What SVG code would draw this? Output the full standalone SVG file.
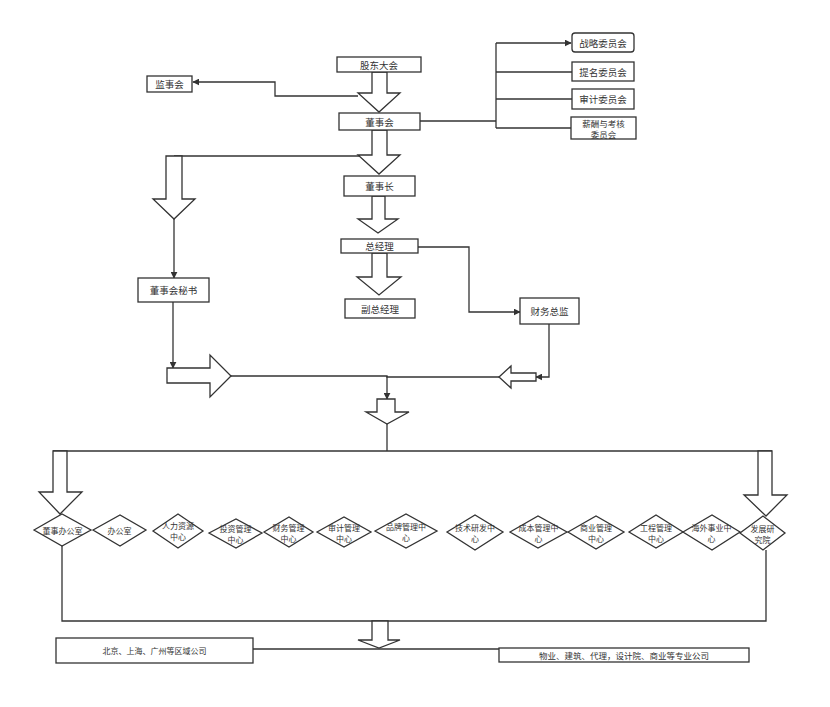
<svg xmlns="http://www.w3.org/2000/svg" width="830" height="707" viewBox="0 0 830 707">
<defs>
<marker id="ah" viewBox="0 0 10 10" refX="9" refY="5" markerWidth="7" markerHeight="7" orient="auto" markerUnits="userSpaceOnUse"><path d="M0,0 L10,5 L0,10 z" fill="#333"/></marker>
<style>
.box{fill:#fff;stroke:#333;stroke-width:1.3}
.ba{fill:#fff;stroke:#333;stroke-width:1.3}
.ln{fill:none;stroke:#333;stroke-width:1.3}
.ar{fill:none;stroke:#333;stroke-width:1.3;marker-end:url(#ah)}
text{font-family:"Noto Sans CJK SC","Liberation Sans",sans-serif;font-size:9.5px;fill:#333;text-anchor:middle;dominant-baseline:central}
.s{font-size:8px}
.m{font-size:8.5px}
</style>
</defs>
<rect width="830" height="707" fill="#fff"/>
<g id="connectors">
<polyline class="ar" points="358,96 275,96 275,82 193,82"/>
<polyline class="ln" points="420,121 496,121"/>
<polyline class="ln" points="496,43 496,128"/>
<polyline class="ar" points="496,43 571,43"/>
<polyline class="ln" points="496,72 572,72"/>
<polyline class="ln" points="496,99 572,99"/>
<polyline class="ln" points="496,128 571,128"/>
<polyline class="ln" points="174,156 372,156"/>
<polyline class="ar" points="174,219 174,278"/>
<polyline class="ar" points="418,247 469,247 469,312 520,312"/>
<polyline class="ar" points="173,302 173,368"/>
<polyline class="ar" points="549,324 549,377 536,377"/>
<polyline class="ln" points="231,376 387,376 387,377 499,377"/>
<polyline class="ar" points="387,376 387,399"/>
<polyline class="ln" points="387,424 387,451"/>
<polyline class="ln" points="53,451 772,451"/>
<polyline class="ln" points="62,546 62,621 766,621 766,550"/>
<polyline class="ln" points="253,649 499,649"/>
</g>
<g id="blockarrows">
<polygon class="ba" points="372,72 387,72 387,93 400,93 379,112 358,93 372,93"/>
<polygon class="ba" points="372,130 387,130 387,155 400,155 379,174 358,155 372,155"/>
<polygon class="ba" points="372,196 385,196 385,219 398,219 378,233 358,219 372,219"/>
<polygon class="ba" points="372,253 387,253 387,277 401,277 379,295 357,277 372,277"/>
<polygon class="ba" points="166,156 182,156 182,199 195,199 174,219 153,199 166,199"/>
<polygon class="ba" points="377,399 395,399 395,412 409,412 387,424 366,412 377,412"/>
<polygon class="ba" points="53,451 67,451 67,492 82,492 60,514 39,492 53,492"/>
<polygon class="ba" points="758,451 772,451 772,495 787,495 766,516 744,495 758,495"/>
<polygon class="ba" points="372,621 388,621 388,640 400,640 379,648 358,640 372,640"/>
<polygon class="ba" points="167,368 210,368 210,355 231,376 210,397 210,383 167,383"/>
<polygon class="ba" points="536,373 511,373 511,366 499,377 511,388 511,381 536,381"/>
</g>
<g id="n-gudong"><rect class="box" x="337" y="57" width="84" height="15"/><text x="379" y="64.5">股东大会</text></g>
<g id="n-jianshi"><rect class="box" x="147" y="76" width="45" height="16"/><text x="169.5" y="84">监事会</text></g>
<g id="n-dongshihui"><rect class="box" x="339" y="113" width="81" height="17"/><text x="379.5" y="121.5">董事会</text></g>
<g id="n-zhanlue"><rect class="box" x="572" y="33" width="62" height="19" rx="3"/><text x="603" y="42.5">战略委员会</text></g>
<g id="n-timing"><rect class="box" x="572" y="62" width="62" height="19"/><text x="603" y="71.5">提名委员会</text></g>
<g id="n-shenji"><rect class="box" x="572" y="89" width="62" height="20"/><text x="603" y="99">审计委员会</text></g>
<g id="n-xinchou"><rect class="box" x="571" y="117" width="65" height="22"/><text x="603.5" y="122.5" class="m">薪酬与考核</text><text x="603.5" y="133.5" class="m">委员会</text></g>
<g id="n-dongshizhang"><rect class="box" x="344" y="176" width="71" height="20"/><text x="379.5" y="186">董事长</text></g>
<g id="n-zongjingli"><rect class="box" x="341" y="239" width="77" height="14"/><text x="379.5" y="246">总经理</text></g>
<g id="n-fuzong"><rect class="box" x="345" y="299" width="70" height="19"/><text x="380" y="308.5">副总经理</text></g>
<g id="n-mishu"><rect class="box" x="138" y="278" width="71" height="24"/><text x="173.5" y="290">董事会秘书</text></g>
<g id="n-caiwu"><rect class="box" x="520" y="298" width="59" height="26"/><text x="549.5" y="311">财务总监</text></g>
<g id="d1"><polygon class="box" points="34,530 62,514 91,530 62,546"/><text x="62.5" y="530" class="s">董事办公室</text></g>
<g id="d2"><polygon class="box" points="93,530 120,515 146,530 120,546"/><text x="119.5" y="530" class="s">办公室</text></g>
<g id="d3"><polygon class="box" points="153,531 178,514 203,531 178,548"/><text x="178" y="525" class="s">人力资源</text><text x="178" y="536" class="s">中心</text></g>
<g id="d4"><polygon class="box" points="209,533 236,519 262,533 236,548"/><text x="235.5" y="528" class="s">投资管理</text><text x="235.5" y="539" class="s">中心</text></g>
<g id="d5"><polygon class="box" points="264,532 289,517 313,532 289,547"/><text x="288.5" y="527" class="s">财务管理</text><text x="288.5" y="538" class="s">中心</text></g>
<g id="d6"><polygon class="box" points="317,532 344,517 371,532 344,547"/><text x="344" y="527" class="s">审计管理</text><text x="344" y="538" class="s">中心</text></g>
<g id="d7"><polygon class="box" points="375,531 406,514 437,531 406,548"/><text x="406" y="526" class="s">品牌管理中</text><text x="406" y="537" class="s">心</text></g>
<g id="d8"><polygon class="box" points="447,532 475,515 503,532 475,550"/><text x="475" y="527" class="s">技术研发中</text><text x="475" y="538" class="s">心</text></g>
<g id="d9"><polygon class="box" points="510,532 538,516 567,532 538,548"/><text x="538.5" y="527" class="s">成本管理中</text><text x="538.5" y="538" class="s">心</text></g>
<g id="d10"><polygon class="box" points="568,532 596,516 624,532 596,549"/><text x="596" y="527" class="s">商业管理</text><text x="596" y="538" class="s">中心</text></g>
<g id="d11"><polygon class="box" points="629,532 656,515 683,532 656,548"/><text x="656" y="527" class="s">工程管理</text><text x="656" y="538" class="s">中心</text></g>
<g id="d12"><polygon class="box" points="683,532 712,515 740,532 712,550"/><text x="711.5" y="527" class="s">海外事业中</text><text x="711.5" y="538" class="s">心</text></g>
<g id="d13"><polygon class="box" points="740,533 763,516 785,533 763,550"/><text x="762.5" y="528" class="s">发展研</text><text x="762.5" y="539" class="s">究院</text></g>
<g id="n-quyu"><rect class="box" x="56" y="638" width="197" height="25"/><text x="154.5" y="650.5" class="s">北京、上海、广州等区域公司</text></g>
<g id="n-zhuanye"><rect class="box" x="499" y="648" width="250" height="14"/><text x="624" y="655" class="m">物业、建筑、代理，设计院、商业等专业公司</text></g>
</svg>
